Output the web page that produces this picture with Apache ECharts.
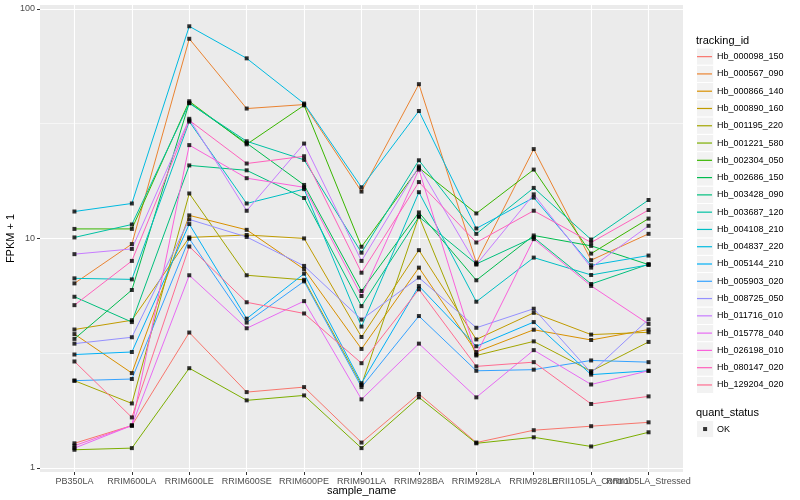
<!DOCTYPE html>
<html><head><meta charset="utf-8">
<script src="https://cdn.jsdelivr.net/npm/echarts/dist/echarts.min.js"></script>
<style>html,body{margin:0;padding:0;background:#fff}#c{width:800px;height:500px}</style>
</head><body><div id="c"></div>
<script>
// ---- data ----
const categories = ['PB350LA','RRIM600LA','RRIM600LE','RRIM600SE','RRIM600PE','RRIM901LA','RRIM928BA','RRIM928LA','RRIM928LE','RRII105LA_Control','RRII105LA_Stressed'];
const trackingIds = ['Hb_000098_150','Hb_000567_090','Hb_000866_140','Hb_000890_160','Hb_001195_220','Hb_001221_580','Hb_002304_050','Hb_002686_150','Hb_003428_090','Hb_003687_120','Hb_004108_210','Hb_004837_220','Hb_005144_210','Hb_005903_020','Hb_008725_050','Hb_011716_010','Hb_015778_040','Hb_026198_010','Hb_080147_020','Hb_129204_020'];
const trackingColors = ['#F8766D','#EA8331','#D89000','#C09B00','#A3A500','#7CAE00','#39B600','#00BB4E','#00BF7D','#00C1A3','#00BFC4','#00BAE0','#00B0F6','#35A2FF','#9590FF','#C77CFF','#E76BF3','#FA62DB','#FF62BC','#FF6C91'];

const hb000098 = [1.28, 1.53, 3.89, 2.14, 2.25, 1.29, 2.10, 1.29, 1.46, 1.52, 1.58];
const hb000567 = [6.37, 9.45, 74.1, 36.8, 38.3, 16.0, 47.0, 7.85, 24.5, 8.04, 10.47];
const hb000866 = [3.83, 2.59, 12.6, 10.9, 7.34, 3.30, 7.46, 3.20, 4.00, 3.61, 4.01];
const hb000890 = [4.01, 4.40, 10.1, 10.35, 10.0, 3.72, 8.89, 3.63, 4.74, 3.81, 3.90];
const hb001195 = [2.40, 1.91, 15.7, 6.91, 6.60, 2.30, 12.5, 3.09, 3.56, 2.64, 3.54];
const hb001221 = [1.20, 1.22, 2.72, 1.97, 2.07, 1.22, 2.03, 1.28, 1.36, 1.24, 1.43];
const hb002304 = [11.0, 11.0, 39.6, 25.7, 38.0, 9.2, 20.3, 12.85, 19.95, 8.59, 12.2];
const hb002686 = [3.65, 5.96, 39.0, 26.0, 17.1, 5.90, 12.98, 6.57, 10.3, 9.28, 7.69];
const hb003428 = [5.57, 4.32, 20.8, 19.8, 15.0, 5.07, 12.43, 7.74, 10.1, 6.33, 7.72];
const hb003687 = [10.1, 11.5, 38.8, 26.5, 22.0, 8.67, 21.9, 10.47, 16.6, 9.89, 14.7];
const hb004108 = [6.70, 6.63, 32.3, 14.2, 16.4, 4.13, 15.9, 5.30, 8.25, 6.93, 7.67];
const hb004837 = [13.1, 14.2, 84.0, 60.9, 38.7, 16.7, 35.9, 11.05, 15.06, 7.64, 8.42];
const hb005144 = [3.12, 3.20, 11.55, 4.47, 7.02, 2.34, 6.20, 3.39, 4.32, 2.55, 2.65];
const hb005903 = [2.40, 2.44, 9.97, 4.30, 6.50, 2.25, 4.59, 2.65, 2.68, 2.94, 2.89];
const hb008725 = [3.48, 3.71, 12.1, 10.15, 7.59, 4.43, 6.75, 4.08, 4.94, 2.60, 4.44];
const hb011716 = [8.54, 9.0, 33.2, 13.2, 25.9, 7.98, 20.6, 7.69, 15.56, 7.46, 11.35];
const hb015778 = [1.22, 1.53, 6.91, 4.06, 5.33, 1.99, 3.48, 2.03, 3.26, 2.31, 2.65];
const hb026198 = [1.25, 1.53, 25.5, 18.3, 16.7, 5.61, 19.95, 3.12, 9.93, 6.21, 4.24];
const hb080147 = [5.12, 7.98, 32.7, 21.2, 22.8, 7.09, 17.6, 9.60, 13.2, 9.6, 13.3];
const hb129204 = [2.91, 1.66, 9.22, 5.27, 4.71, 2.86, 6.0, 2.77, 2.89, 1.90, 2.05];

const seriesValues = [hb000098, hb000567, hb000866, hb000890, hb001195, hb001221, hb002304, hb002686, hb003428, hb003687, hb004108, hb004837, hb005144, hb005903, hb008725, hb011716, hb015778, hb026198, hb080147, hb129204];

const yMajorTicks = [1, 10, 100];
const yMinorTicks = [3.1623, 31.623];
const quantStatus = ['OK'];

// ---- chart ----
const FONT = 'Liberation Sans, Arial, Helvetica, sans-serif';
const xIdx = categories.map((c, i) => i);
const xIdxEven = xIdx.filter(i => i % 2 === 0);
const xIdxOdd = xIdx.filter(i => i % 2 === 1);
const chart = echarts.init(document.getElementById('c'), null, {renderer: 'canvas'});

const lineSeries = seriesValues.map((vals, k) => ({
  name: trackingIds[k],
  type: 'line',
  data: vals.map((v, i) => [i, v]),
  showSymbol: false,
  symbol: 'none',
  lineStyle: {color: trackingColors[k], width: 1},
  itemStyle: {color: trackingColors[k]},
  emphasis: {disabled: true},
  silent: true,
  z: 2
}));

const pointData = [];
seriesValues.forEach(vals => vals.forEach((v, i) => pointData.push([i, v])));

const keyRects = trackingIds.map((id, i) => ({
  type: 'rect',
  shape: {x: 696.5, y: 48 + 17.28 * i, width: 17.28, height: 17.28},
  style: {fill: '#F2F2F2', stroke: '#fff', lineWidth: 1}
}));
keyRects.push({
  type: 'rect',
  shape: {x: 696.5, y: 420.4, width: 17.28, height: 17.28},
  style: {fill: '#F2F2F2', stroke: '#fff', lineWidth: 1}
});

const labelStyle = {color: '#4D4D4D', fontSize: 9, margin: 5, fontFamily: FONT};

chart.setOption({
  animation: false,
  backgroundColor: '#fff',
  textStyle: {fontFamily: FONT},
  grid: {left: 40, right: 117, top: 5, bottom: 28, show: true, backgroundColor: '#EBEBEB', borderWidth: 0, containLabel: false, outerBoundsMode: 'none'},
  title: [
    {text: 'tracking_id', left: 696, top: 34.7, padding: 0, textStyle: {fontSize: 11, fontWeight: 'normal', color: '#000', lineHeight: 12, fontFamily: FONT}},
    {text: 'quant_status', left: 696, top: 406.7, padding: 0, textStyle: {fontSize: 11, fontWeight: 'normal', color: '#000', lineHeight: 12, fontFamily: FONT}}
  ],
  graphic: keyRects,
  legend: [
    {
      data: trackingIds, orient: 'vertical', left: 697, top: 48, padding: 0, itemGap: 0,
      itemWidth: 15, itemHeight: 1.2, icon: 'rect', selectedMode: false,
      itemStyle: {borderWidth: 0},
      textStyle: {fontSize: 9, lineHeight: 17.28, color: '#000', fontFamily: FONT}
    },
    {
      data: quantStatus, orient: 'vertical', left: 703.1, top: 420.4, padding: 0, itemGap: 0,
      itemWidth: 4, itemHeight: 4, icon: 'rect', selectedMode: false,
      itemStyle: {borderWidth: 0},
      textStyle: {fontSize: 9, lineHeight: 17.28, color: '#000', fontFamily: FONT, padding: [0, 0, 0, 5]}
    }
  ],
  xAxis: [
    {
      type: 'value', min: -0.6, max: 10.6, position: 'bottom',
      axisLine: {show: false, onZero: false},
      axisTick: {show: true, length: 3, lineStyle: {color: '#333333', width: 1}, customValues: xIdx},
      axisLabel: Object.assign({customValues: xIdxEven, formatter: v => categories[Math.round(v)], hideOverlap: false}, labelStyle),
      splitLine: {show: true, lineStyle: {color: '#FFFFFF', width: 1.1}},
      name: 'sample_name', nameLocation: 'middle', nameGap: 13, nameMoveOverlap: false,
      nameTextStyle: {color: '#000', fontSize: 11, fontFamily: FONT}
    },
    {
      type: 'value', min: -0.6, max: 10.6, position: 'bottom',
      axisLine: {show: false, onZero: false},
      axisTick: {show: false, customValues: xIdxOdd},
      axisLabel: Object.assign({customValues: xIdxOdd, formatter: v => categories[Math.round(v)], hideOverlap: false}, labelStyle),
      splitLine: {show: false}
    }
  ],
  yAxis: [
    {
      type: 'log', logBase: 10, min: 0.96, max: 104,
      axisLine: {show: false, onZero: false},
      axisTick: {show: true, length: 3, lineStyle: {color: '#333333', width: 1}, customValues: yMajorTicks},
      axisLabel: Object.assign({customValues: yMajorTicks, formatter: v => String(Math.round(v))}, labelStyle),
      splitLine: {show: true, lineStyle: {color: '#FFFFFF', width: 1.1}},
      name: 'FPKM + 1', nameLocation: 'middle', nameGap: 23.5, nameRotate: 90, nameMoveOverlap: false,
      nameTextStyle: {color: '#000', fontSize: 11, fontFamily: FONT}
    },
    {
      type: 'log', logBase: 10, min: 0.96, max: 104, position: 'left',
      axisLine: {show: false, onZero: false},
      axisTick: {show: false, customValues: yMinorTicks},
      axisLabel: {show: false, customValues: yMinorTicks},
      splitLine: {show: true, lineStyle: {color: '#FFFFFF', width: 0.55}}
    }
  ],
  series: lineSeries.concat([{
    name: 'OK', type: 'scatter', data: pointData, symbol: 'rect', symbolSize: 4,
    itemStyle: {color: '#000'}, silent: true, z: 3
  }])
});
</script>
</body></html>
